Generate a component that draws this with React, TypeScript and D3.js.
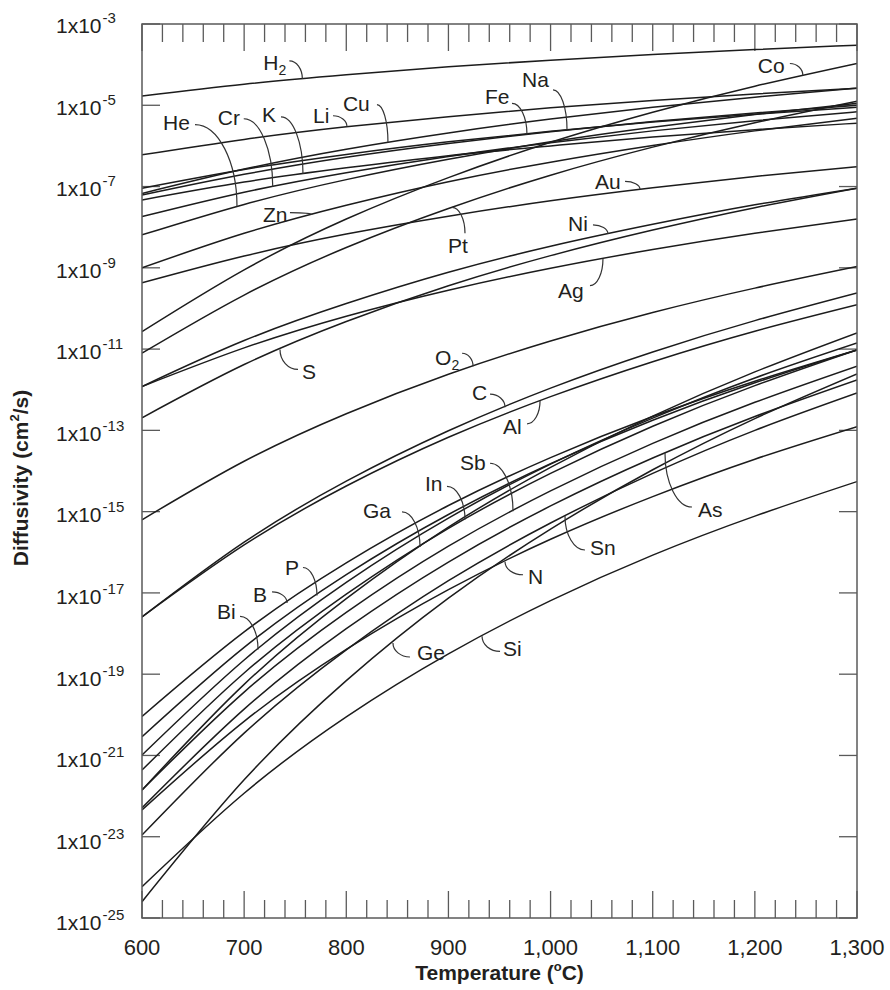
import React from 'react';
import * as d3 from 'd3';

// Temperatures (°C) at which the curves were read
const temperatures = [600, 700, 800, 900, 1000, 1100, 1200, 1300];

// log10 of diffusivity (cm^2/s) at each temperature
const logD_H2 = [-4.77, -4.48, -4.25, -4.05, -3.89, -3.75, -3.63, -3.52];
const logD_He = [-8.19, -7.44, -6.83, -6.33, -5.9, -5.54, -5.23, -4.95];
const logD_Cr = [-7.74, -7.14, -6.66, -6.26, -5.92, -5.63, -5.38, -5.16];
const logD_K = [-7.33, -6.89, -6.54, -6.24, -6.0, -5.78, -5.6, -5.44];
const logD_Li = [-6.22, -5.84, -5.53, -5.28, -5.06, -4.88, -4.72, -4.58];
const logD_Cu = [-7.17, -6.57, -6.08, -5.68, -5.34, -5.05, -4.8, -4.58];
const logD_Fe = [-7.21, -6.7, -6.28, -5.94, -5.65, -5.4, -5.19, -5.0];
const logD_Na = [-7.04, -6.58, -6.21, -5.9, -5.64, -5.41, -5.22, -5.05];
const logD_Co = [-10.57, -9.05, -7.8, -6.78, -5.91, -5.17, -4.53, -3.97];
const logD_Zn = [-9.0, -8.15, -7.46, -6.88, -6.4, -5.99, -5.63, -5.32];
const logD_Pt = [-11.1, -9.67, -8.5, -7.54, -6.72, -6.03, -5.43, -4.9];
const logD_Au = [-9.37, -8.71, -8.17, -7.73, -7.35, -7.03, -6.75, -6.51];
const logD_Ni = [-11.92, -10.79, -9.88, -9.11, -8.47, -7.93, -7.45, -7.04];
const logD_Ag = [-11.92, -10.97, -10.19, -9.55, -9.01, -8.55, -8.15, -7.8];
const logD_S = [-12.69, -11.38, -10.32, -9.44, -8.7, -8.07, -7.52, -7.04];
const logD_O2 = [-15.2, -13.76, -12.59, -11.62, -10.8, -10.1, -9.5, -8.97];
const logD_C = [-17.59, -15.75, -14.25, -13.01, -11.96, -11.07, -10.3, -9.62];
const logD_Al = [-17.59, -15.82, -14.37, -13.17, -12.17, -11.31, -10.56, -9.91];
const logD_B = [-20.04, -17.96, -16.26, -14.85, -13.67, -12.66, -11.79, -11.02];
const logD_P = [-20.54, -18.34, -16.55, -15.07, -13.82, -12.75, -11.83, -11.02];
const logD_Bi = [-20.99, -18.65, -16.74, -15.16, -13.83, -12.7, -11.71, -10.85];
const logD_Ga = [-21.85, -19.25, -17.14, -15.38, -13.91, -12.65, -11.56, -10.6];
const logD_In = [-21.36, -18.97, -17.03, -15.41, -14.06, -12.9, -11.9, -11.02];
const logD_Sb = [-21.85, -19.44, -17.48, -15.85, -14.49, -13.32, -12.31, -11.42];
const logD_As = [-22.29, -19.86, -17.88, -16.24, -14.86, -13.68, -12.66, -11.76];
const logD_N = [-22.34, -20.16, -18.39, -16.92, -15.68, -14.63, -13.71, -12.91];
const logD_Sn = [-22.96, -20.45, -18.4, -16.7, -15.28, -14.06, -13.0, -12.08];
const logD_Ge = [-24.6, -21.6, -19.16, -17.13, -15.43, -13.97, -12.71, -11.61];
const logD_Si = [-24.23, -21.93, -20.05, -18.5, -17.19, -16.07, -15.11, -14.26];

const seriesNames = ['H2', 'He', 'Cr', 'K', 'Li', 'Cu', 'Fe', 'Na', 'Co', 'Zn', 'Pt', 'Au', 'Ni', 'Ag', 'S', 'O2', 'C', 'Al', 'B', 'P', 'Bi', 'Ga', 'In', 'Sb', 'As', 'N', 'Sn', 'Ge', 'Si'];
const seriesValues = [logD_H2, logD_He, logD_Cr, logD_K, logD_Li, logD_Cu, logD_Fe, logD_Na, logD_Co, logD_Zn, logD_Pt, logD_Au, logD_Ni, logD_Ag, logD_S, logD_O2, logD_C, logD_Al, logD_B, logD_P, logD_Bi, logD_Ga, logD_In, logD_Sb, logD_As, logD_N, logD_Sn, logD_Ge, logD_Si];

// Axis ticks
const xTickValues = [600, 700, 800, 900, 1000, 1100, 1200, 1300];
const xTickLabels = ['600', '700', '800', '900', '1,000', '1,100', '1,200', '1,300'];
const yTickExponents = [-3, -5, -7, -9, -11, -13, -15, -17, -19, -21, -23, -25];

// Annotation layout: element, text, subscript, temperature where the leader touches the curve,
// text offset (tx, ty) and leader start offset (sx, sy) in px relative to that touch point
const labels = [
  { el: 'H2', text: 'H', sub: '2', at: 757, tx: -39, ty: -9, sx: -13, sy: -18 },
  { el: 'He', text: 'He', at: 693, tx: -74, ty: -77, sx: -42, sy: -82 },
  { el: 'Cr', text: 'Cr', at: 728, tx: -55, ty: -62, sx: -29, sy: -68 },
  { el: 'K', text: 'K', at: 757.6, tx: -41, ty: -52, sx: -22, sy: -57 },
  { el: 'Li', text: 'Li', at: 800.7, tx: -34, ty: -4, sx: -14, sy: -11 },
  { el: 'Cu', text: 'Cu', at: 840.8, tx: -45, ty: -32, sx: -11, sy: -38 },
  { el: 'Fe', text: 'Fe', at: 976.9, tx: -42, ty: -30, sx: -15, sy: -31 },
  { el: 'Na', text: 'Na', at: 1016.1, tx: -45, ty: -43, sx: -14, sy: -40 },
  { el: 'Co', text: 'Co', at: 1247, tx: -45, ty: -2, sx: -13, sy: -12 },
  { el: 'Zn', text: 'Zn', at: 766.4, tx: -49, ty: 7, sx: -22, sy: -2 },
  { el: 'Au', text: 'Au', at: 1087.6, tx: -45, ty: 0, sx: -15, sy: -8 },
  { el: 'Pt', text: 'Pt', at: 903.5, tx: -4, ty: 46, sx: 13, sy: 26, vh: true },
  { el: 'Ni', text: 'Ni', at: 1056.2, tx: -40, ty: -3, sx: -15, sy: -9 },
  { el: 'Ag', text: 'Ag', at: 1051.3, tx: -45, ty: 39, sx: -13, sy: 27 },
  { el: 'S', text: 'S', at: 735.1, tx: 22, ty: 30, sx: 18, sy: 20 },
  { el: 'O2', text: 'O', sub: '2', at: 924.1, tx: -38, ty: -1, sx: -11, sy: -13 },
  { el: 'C', text: 'C', at: 955.4, tx: -33, ty: -7, sx: -15, sy: -13 },
  { el: 'Al', text: 'Al', at: 989.7, tx: -37, ty: 33, sx: -13, sy: 23 },
  { el: 'Ga', text: 'Ga', at: 872.2, tx: -57, ty: -29, sx: -18, sy: -35 },
  { el: 'In', text: 'In', at: 916.2, tx: -40, ty: -28, sx: -18, sy: -33 },
  { el: 'Sb', text: 'Sb', at: 963.2, tx: -53, ty: -41, sx: -23, sy: -48 },
  { el: 'P', text: 'P', at: 771.3, tx: -32, ty: -20, sx: -14, sy: -28 },
  { el: 'B', text: 'B', at: 742, tx: -34, ty: -1, sx: -15, sy: -11 },
  { el: 'Bi', text: 'Bi', at: 713.6, tx: -41, ty: -30, sx: -18, sy: -33 },
  { el: 'Ge', text: 'Ge', at: 845.7, tx: 24, ty: 17, sx: 17, sy: 14 },
  { el: 'Si', text: 'Si', at: 932.9, tx: 21, ty: 20, sx: 18, sy: 15 },
  { el: 'N', text: 'N', at: 955.4, tx: 23, ty: 22, sx: 18, sy: 13 },
  { el: 'Sn', text: 'Sn', at: 1014.1, tx: 25, ty: 39, sx: 20, sy: 34 },
  { el: 'As', text: 'As', at: 1112, tx: 33, ty: 64, sx: 27, sy: 54 },
];

const FONT = '"Liberation Sans", Arial, Helvetica, sans-serif';
const INK = '#231f20';
const FRAME = '#5a5a5a';

export default function App() {
  const width = 890;
  const height = 990;
  const left = 142, right = 857, top = 24, bottom = 918;

  const x = d3.scaleLinear().domain([600, 1300]).range([left, right]);
  const y = d3.scaleLog().domain([1e-25, 1e-3]).range([bottom, top]);

  const line = d3
    .line<[number, number]>()
    .x((d) => x(d[0]))
    .y((d) => y(Math.pow(10, d[1])))
    .curve(d3.curveNatural);

  const curveAt = (name: string, t: number) => {
    const vals = seriesValues[seriesNames.indexOf(name)];
    const interp = d3.scaleLinear().domain(temperatures).range(vals);
    return y(Math.pow(10, interp(t)));
  };

  const leaderPath = (s: [number, number], e: [number, number], vh?: boolean) => {
    const k = 0.55;
    if (!vh) {
      return `M${s[0]},${s[1]} C${s[0] + k * (e[0] - s[0])},${s[1]} ${e[0]},${e[1] - k * (e[1] - s[1])} ${e[0]},${e[1]}`;
    }
    return `M${s[0]},${s[1]} C${s[0]},${s[1] + k * (e[1] - s[1])} ${e[0] + k * (s[0] - e[0])},${e[1]} ${e[0]},${e[1]}`;
  };

  const minorX = d3.range(600, 1301, 20);

  return (
    <svg
      width={width}
      height={height}
      style={{ position: 'absolute', left: 0, top: 0, background: '#fff' }}
      fontFamily={FONT}
    >
      <defs>
        <clipPath id="plotClip">
          <rect x={left} y={top} width={right - left} height={bottom - top} />
        </clipPath>
      </defs>

      {/* x ticks top and bottom */}
      {minorX.map((t) => {
        const major = t % 100 === 0;
        const len = major ? 27 : 18;
        return (
          <g key={'xt' + t} stroke={FRAME} strokeWidth={1.3}>
            <line x1={x(t)} x2={x(t)} y1={bottom} y2={bottom - len} />
            <line x1={x(t)} x2={x(t)} y1={top} y2={top + len} />
          </g>
        );
      })}

      {/* y ticks left and right */}
      {yTickExponents.map((e) => (
        <g key={'yt' + e} stroke={FRAME} strokeWidth={1.3}>
          <line x1={left} x2={left + 18} y1={y(Math.pow(10, e))} y2={y(Math.pow(10, e))} />
          <line x1={right} x2={right - 18} y1={y(Math.pow(10, e))} y2={y(Math.pow(10, e))} />
        </g>
      ))}

      {/* curves */}
      <g clipPath="url(#plotClip)" fill="none" stroke="#1c1c1c" strokeWidth={1.5}>
        {seriesNames.map((name, i) => (
          <path
            key={name}
            d={line(temperatures.map((t, j) => [t, seriesValues[i][j]] as [number, number])) || ''}
          />
        ))}
      </g>

      {/* frame */}
      <rect x={left} y={top} width={right - left} height={bottom - top} fill="none" stroke={FRAME} strokeWidth={1.5} />

      {/* labels with leaders */}
      {labels.map((lb) => {
        const ex = x(lb.at);
        const ey = curveAt(lb.el, lb.at);
        const s: [number, number] = [ex + lb.sx, ey + lb.sy];
        return (
          <g key={'lb' + lb.el}>
            <path d={leaderPath(s, [ex, ey], lb.vh)} fill="none" stroke="#333" strokeWidth={1.2} />
            <text x={ex + lb.tx} y={ey + lb.ty} fontSize={21} fill={INK}>
              {lb.text}
              {lb.sub ? (
                <tspan fontSize={14} dy={5}>
                  {lb.sub}
                </tspan>
              ) : null}
            </text>
          </g>
        );
      })}

      {/* y tick labels */}
      {yTickExponents.map((e, i) => (
        <text key={'yl' + e} x={56} y={y(Math.pow(10, e)) + 9 + i * 0.3} fontSize={21} fill={INK}>
          1x10
          <tspan fontSize={15} dy={-10} dx={1}>
            {String(e)}
          </tspan>
        </text>
      ))}

      {/* x tick labels */}
      {xTickValues.map((t, i) => (
        <text key={'xl' + t} x={x(t)} y={955} fontSize={22} textAnchor="middle" fill={INK}>
          {xTickLabels[i]}
        </text>
      ))}

      {/* axis titles */}
      <text x={(left + right) / 2 + 0} y={980} fontSize={21} fontWeight="bold" textAnchor="middle" fill={INK}>
        Temperature (
        <tspan fontSize={13} dy={-9}>
          o
        </tspan>
        <tspan dy={9}>C)</tspan>
      </text>
      <text
        transform={`translate(28,478) rotate(-90)`}
        fontSize={21}
        fontWeight="bold"
        textAnchor="middle"
        fill={INK}
      >
        Diffusivity (cm
        <tspan fontSize={13} dy={-9}>
          2
        </tspan>
        <tspan dy={9}>/s)</tspan>
      </text>
    </svg>
  );
}
